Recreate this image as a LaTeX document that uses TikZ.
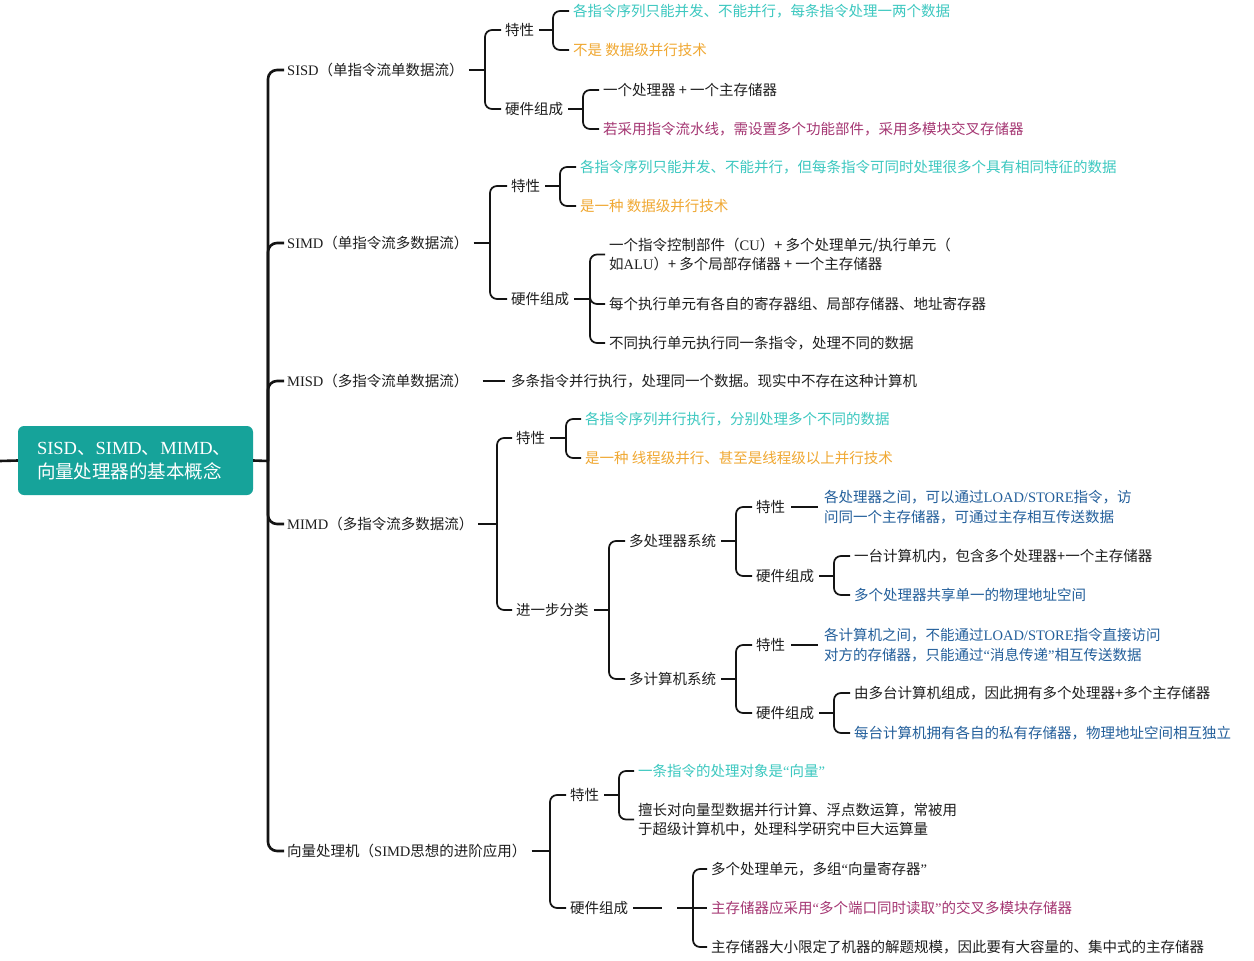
\documentclass[tikz,border=0pt]{standalone}
\usepackage{fontspec}
\setmainfont{Liberation Serif}
\newfontfamily\cjk{Noto Sans CJK SC}
\newcommand\cjkf{\cjk\fontsize{14.5}{19.5}\selectfont}
\newcommand\rootf{\cjk\fontsize{18.5}{24}\selectfont}
\newcommand\latn[1]{{\rmfamily #1}}
\newcommand\myLq{\latn{“}}
\newcommand\myRq{\latn{”}}
\definecolor{txt}{RGB}{30,30,30}
\definecolor{cyantxt}{RGB}{60,200,192}
\definecolor{orangetxt}{RGB}{240,168,50}
\definecolor{magtxt}{RGB}{165,55,115}
\definecolor{bluetxt}{RGB}{35,95,155}
\definecolor{tealbox}{RGB}{22,163,154}
\definecolor{linec}{RGB}{20,20,20}
\newcommand\kids[2]{\foreach \c in {#2} {\draw[conn, rounded corners=7pt] (#1) |- ([xshift=-4pt]\c.west);}}
\newcommand\pline[2]{\draw[conn] ([xshift=5pt]#1.east) -- (#2);}
\begin{document}
\begin{tikzpicture}[x=1pt,y=-1pt,
  every node/.style={inner sep=0pt, anchor=west, font=\cjkf, text=txt, text height=12pt, text depth=1pt, align=left},
  two/.style={text height=31.5pt},
  conn/.style={draw=linec, line width=1.7pt},
  spine/.style={draw=linec, line width=2.6pt},
  cy/.style={text=cyantxt},
  og/.style={text=orangetxt},
  mg/.style={text=magtxt},
  bl/.style={text=bluetxt},
  rootbox/.style={fill=tealbox, rounded corners=6pt, text=white, font=\rootf, anchor=center,
    minimum width=235pt, minimum height=69pt, text width=197pt, inner xsep=19pt, text height=14pt, text depth=26pt}
]
\fill[white] (0,0) rectangle (1254,961);
\useasboundingbox (0,0) rectangle (1254,961);

% root
\node[rootbox] (root) at (135.5,460.5) {\latn{SISD}、\latn{SIMD}、\latn{MIMD}、\\向量处理器的基本概念};
\coordinate (lend) at (0,461);
\coordinate (sp) at (268,461);
\draw[spine] (lend) -- (root.west);
\draw[spine] (root.east) -- (sp);

% level 1
\node (sisd) at (287,70) {\latn{SISD}（单指令流单数据流）};
\node (simd) at (287,243) {\latn{SIMD}（单指令流多数据流）};
\node (misd) at (287,381) {\latn{MISD}（多指令流单数据流）};
\node (mimd) at (287,524) {\latn{MIMD}（多指令流多数据流）};
\node (vec) at (287,851) {向量处理机（\latn{SIMD}思想的进阶应用）};
\foreach \c in {sisd,simd,misd,mimd,vec} {\draw[spine, rounded corners=9pt] (sp) |- ([xshift=-3pt]\c.west);}

% SISD
\node (sisdt) at (505,30) {特性};
\node (sisdh) at (505,109) {硬件组成};
\coordinate (sisdj) at (485,70);
\pline{sisd}{sisdj}
\kids{sisdj}{sisdt,sisdh}
\node[cy] (sisdt1) at (573,11) {各指令序列只能并发、不能并行，每条指令处理一两个数据};
\node[og] (sisdt2) at (573,50) {不是 数据级并行技术};
\coordinate (sisdtj) at (553,30);
\pline{sisdt}{sisdtj}
\kids{sisdtj}{sisdt1,sisdt2}
\node (sisdh1) at (603,90) {一个处理器 + 一个主存储器};
\node[mg] (sisdh2) at (603,129) {若采用指令流水线，需设置多个功能部件，采用多模块交叉存储器};
\coordinate (sisdhj) at (583,109);
\pline{sisdh}{sisdhj}
\kids{sisdhj}{sisdh1,sisdh2}

% SIMD
\node (simdt) at (511,186) {特性};
\node (simdh) at (511,299) {硬件组成};
\coordinate (simdj) at (490,243);
\pline{simd}{simdj}
\kids{simdj}{simdt,simdh}
\node[cy] (simdt1) at (580,167) {各指令序列只能并发、不能并行，但每条指令可同时处理很多个具有相同特征的数据};
\node[og] (simdt2) at (580,206) {是一种 数据级并行技术};
\coordinate (simdtj) at (560,186);
\pline{simdt}{simdtj}
\kids{simdtj}{simdt1,simdt2}
\node[two] (simdh1) at (609,254.5) {一个指令控制部件（\latn{CU}）+ 多个处理单元/执行单元（\\如\latn{ALU}）+ 多个局部存储器 + 一个主存储器};
\node (simdh2) at (609,304) {每个执行单元有各自的寄存器组、局部存储器、地址寄存器};
\node (simdh3) at (609,343) {不同执行单元执行同一条指令，处理不同的数据};
\coordinate (simdhj) at (590,299);
\pline{simdh}{simdhj}
\kids{simdhj}{simdh1,simdh2,simdh3}

% MISD
\node (misd1) at (511,381) {多条指令并行执行，处理同一个数据。现实中不存在这种计算机};
\draw[conn] ([xshift=14pt]misd.east) -- ([xshift=-6pt]misd1.west);

% MIMD
\node (mimdt) at (516,438) {特性};
\node (mimdc) at (516,610) {进一步分类};
\coordinate (mimdj) at (497,524);
\pline{mimd}{mimdj}
\kids{mimdj}{mimdt,mimdc}
\node[cy] (mimdt1) at (585,419) {各指令序列并行执行，分别处理多个不同的数据};
\node[og] (mimdt2) at (585,458) {是一种 线程级并行、甚至是线程级以上并行技术};
\coordinate (mimdtj) at (566,438);
\pline{mimdt}{mimdtj}
\kids{mimdtj}{mimdt1,mimdt2}
\node (mp) at (629,541) {多处理器系统};
\node (mc) at (629,679) {多计算机系统};
\coordinate (mimdcj) at (609,610);
\pline{mimdc}{mimdcj}
\kids{mimdcj}{mp,mc}

% multiprocessor
\node (mpt) at (756,507) {特性};
\node (mph) at (756,576) {硬件组成};
\coordinate (mpj) at (736,541);
\pline{mp}{mpj}
\kids{mpj}{mpt,mph}
\node[bl,two] (mpt1) at (824,507) {各处理器之间，可以通过\latn{LOAD/STORE}指令，访\\问同一个主存储器，可通过主存相互传送数据};
\draw[conn] ([xshift=6pt]mpt.east) -- ([xshift=-6pt]mpt1.west);
\node (mph1) at (854,556) {一台计算机内，包含多个处理器+一个主存储器};
\node[bl] (mph2) at (854,595) {多个处理器共享单一的物理地址空间};
\coordinate (mphj) at (834,576);
\pline{mph}{mphj}
\kids{mphj}{mph1,mph2}

% multicomputer
\node (mct) at (756,645) {特性};
\node (mch) at (756,713) {硬件组成};
\coordinate (mcj) at (736,679);
\pline{mc}{mcj}
\kids{mcj}{mct,mch}
\node[bl,two] (mct1) at (824,645) {各计算机之间，不能通过\latn{LOAD/STORE}指令直接访问\\对方的存储器，只能通过\myLq 消息传递\myRq 相互传送数据};
\draw[conn] ([xshift=6pt]mct.east) -- ([xshift=-6pt]mct1.west);
\node (mch1) at (854,693) {由多台计算机组成，因此拥有多个处理器+多个主存储器};
\node[bl] (mch2) at (854,733) {每台计算机拥有各自的私有存储器，物理地址空间相互独立};
\coordinate (mchj) at (834,713);
\pline{mch}{mchj}
\kids{mchj}{mch1,mch2}

% vector
\node (vect) at (570,795) {特性};
\node (vech) at (570,908) {硬件组成};
\coordinate (vecj) at (550,851);
\pline{vec}{vecj}
\kids{vecj}{vect,vech}
\node[cy] (vect1) at (638,771) {一条指令的处理对象是\myLq 向量\myRq};
\node[two] (vect2) at (638,819.5) {擅长对向量型数据并行计算、浮点数运算，常被用\\于超级计算机中，处理科学研究中巨大运算量};
\coordinate (vectj) at (619,795);
\pline{vect}{vectj}
\kids{vectj}{vect1,vect2}
\node (vech1) at (711,869) {多个处理单元，多组\myLq 向量寄存器\myRq};
\node[mg] (vech2) at (711,908) {主存储器应采用\myLq 多个端口同时读取\myRq 的交叉多模块存储器};
\node (vech3) at (711,947) {主存储器大小限定了机器的解题规模，因此要有大容量的、集中式的主存储器};
\coordinate (vechend) at (662,908);
\coordinate (vechs) at (677,908);
\coordinate (vechj) at (693,908);
\draw[conn] ([xshift=5pt]vech.east) -- (vechend);
\draw[conn] (vechs) -- ([xshift=-4pt]vech2.west);
\kids{vechj}{vech1,vech3}
\end{tikzpicture}
\end{document}
